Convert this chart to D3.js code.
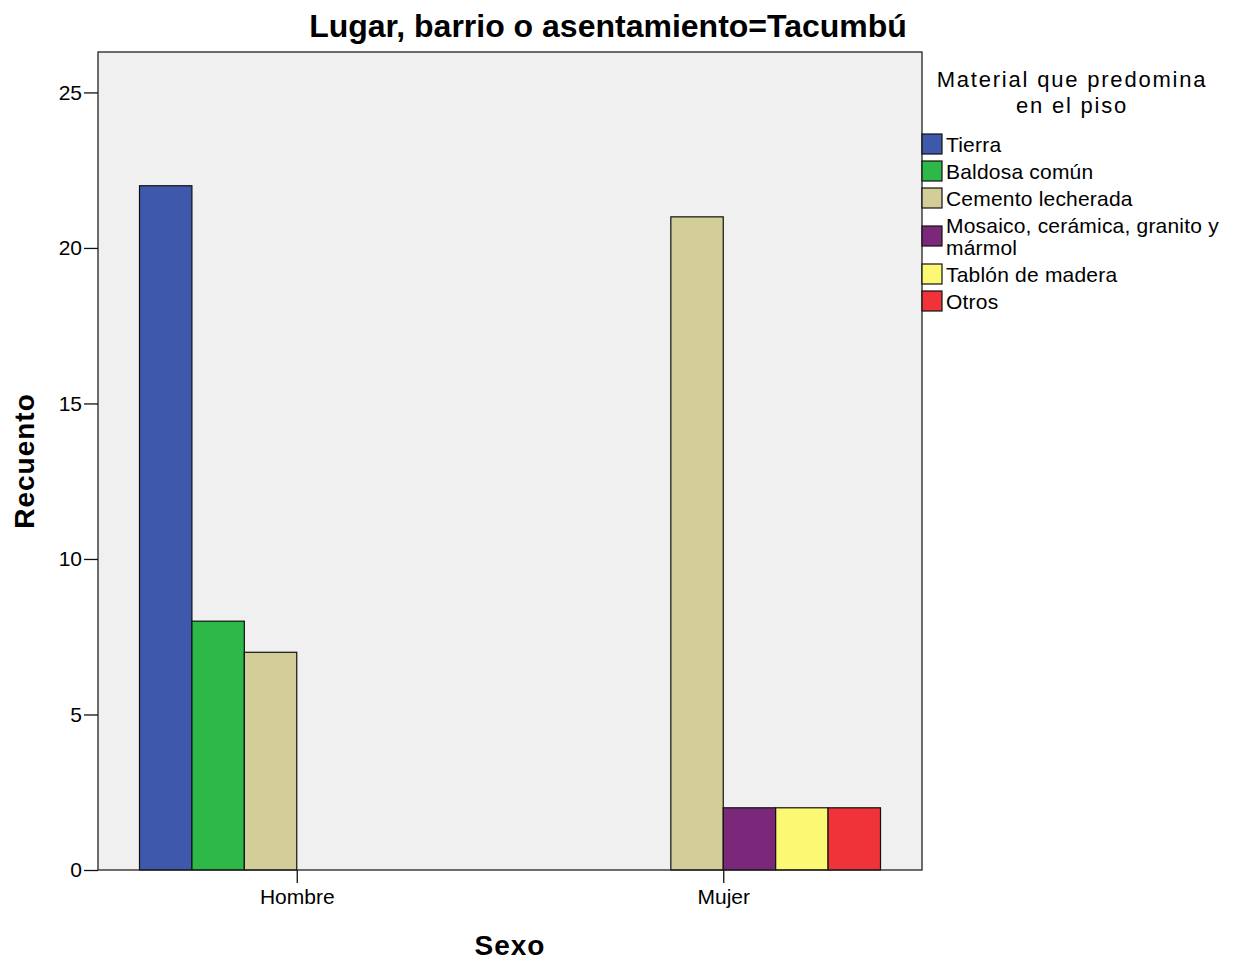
<!DOCTYPE html>
<html>
<head>
<meta charset="utf-8">
<script src="https://cdn.jsdelivr.net/npm/d3@7"></script>
<style>
  html, body { margin: 0; padding: 0; background: #ffffff; }
  svg { display: block; }
  text { font-family: "Liberation Sans", Arial, sans-serif; fill: #000; }
</style>
</head>
<body>
<svg id="chart" width="1240" height="960"></svg>
<script>
// ---- data ----
const titleText = "Lugar, barrio o asentamiento=Tacumbú";
const xTitle = "Sexo";
const yTitle = "Recuento";
const legendTitle = ["Material que predomina", "en el piso"];
const categories = ["Hombre", "Mujer"];
const seriesNames = ["Tierra", "Baldosa común", "Cemento lecherada", "Mosaico, cerámica, granito y mármol", "Tablón de madera", "Otros"];
const seriesColors = ["#3e58ac", "#2eb848", "#d3ce97", "#7b287a", "#fbf873", "#ef3338"];
const hombreValues = [22, 8, 7, 0, 0, 0];
const mujerValues = [0, 0, 21, 2, 2, 2];
const yTicks = [0, 5, 10, 15, 20, 25];
const yMax = 26.3;

const valuesByCategory = { "Hombre": hombreValues, "Mujer": mujerValues };

// ---- layout ----
const svg = d3.select("#chart");
const plot = { left: 98, right: 922, top: 52, bottom: 870 };

const x = d3.scalePoint().domain(categories).range([plot.left, plot.right]).padding(0.466);
const groupWidth = 314.5;
const xInner = d3.scaleBand().domain(seriesNames).range([-groupWidth / 2, groupWidth / 2]).padding(0);
const y = d3.scaleLinear().domain([0, yMax]).range([plot.bottom, plot.top]);

// plot background
svg.append("rect")
  .attr("x", plot.left).attr("y", plot.top)
  .attr("width", plot.right - plot.left).attr("height", plot.bottom - plot.top)
  .attr("fill", "#f0f0f0");

// bars
const barData = [];
categories.forEach(c => {
  valuesByCategory[c].forEach((v, i) => {
    if (v > 0) barData.push({ cat: c, series: seriesNames[i], value: v, color: seriesColors[i] });
  });
});
svg.append("g").selectAll("rect").data(barData).join("rect")
  .attr("x", d => x(d.cat) + xInner(d.series))
  .attr("y", d => y(d.value))
  .attr("width", xInner.bandwidth())
  .attr("height", d => y(0) - y(d.value))
  .attr("fill", d => d.color)
  .attr("stroke", "#111")
  .attr("stroke-width", 1.2);

// frame
svg.append("rect")
  .attr("x", plot.left).attr("y", plot.top)
  .attr("width", plot.right - plot.left).attr("height", plot.bottom - plot.top)
  .attr("fill", "none").attr("stroke", "#222").attr("stroke-width", 1.3);

// y axis
const yAxis = d3.axisLeft(y).tickValues(yTicks).tickSize(14).tickSizeOuter(0).tickPadding(2);
const gy = svg.append("g").attr("transform", `translate(${plot.left},0)`).call(yAxis);
gy.select(".domain").remove();
gy.selectAll(".tick line").attr("stroke", "#111").attr("stroke-width", 1.3);
gy.selectAll(".tick text").attr("font-size", 21).attr("font-family", "Liberation Sans, Arial, sans-serif").attr("fill", "#000");

// x axis
const xAxis = d3.axisBottom(x).tickSize(13).tickSizeOuter(0).tickPadding(6);
const gx = svg.append("g").attr("transform", `translate(0,${plot.bottom})`).call(xAxis);
gx.select(".domain").remove();
gx.selectAll(".tick line").attr("stroke", "#111").attr("stroke-width", 1.3);
gx.selectAll(".tick text").attr("font-size", 21).attr("font-family", "Liberation Sans, Arial, sans-serif").attr("fill", "#000");

// title
svg.append("text")
  .attr("x", 608).attr("y", 37)
  .attr("text-anchor", "middle")
  .attr("font-size", 32).attr("font-weight", "bold")
  .text(titleText);

// axis titles
svg.append("text")
  .attr("x", 510).attr("y", 955)
  .attr("text-anchor", "middle")
  .attr("font-size", 28).attr("font-weight", "bold")
  .attr("letter-spacing", 1)
  .text(xTitle);

svg.append("text")
  .attr("transform", "translate(34,461) rotate(-90)")
  .attr("text-anchor", "middle")
  .attr("font-size", 28).attr("font-weight", "bold")
  .attr("letter-spacing", 1)
  .text(yTitle);

// legend
const lg = svg.append("g");
legendTitle.forEach((t, i) => {
  lg.append("text")
    .attr("x", 1072).attr("y", 87 + i * 26)
    .attr("text-anchor", "middle")
    .attr("font-size", 22)
    .attr("letter-spacing", 1.8)
    .text(t);
});

const textX = 946, boxX = 922, boxSize = 20, maxW = 288, lineH = 22, rowH = 27;
let cursor = 130.5;
seriesNames.forEach((name, i) => {
  // word wrap
  const words = name.split(" ");
  const tmp = lg.append("text").attr("font-size", 21).attr("letter-spacing", 0.2);
  const lines = [];
  let cur = "";
  words.forEach(w => {
    const test = cur ? cur + " " + w : w;
    tmp.text(test);
    if (tmp.node().getComputedTextLength() > maxW && cur) {
      lines.push(cur);
      cur = w;
    } else cur = test;
  });
  lines.push(cur);
  tmp.remove();

  const h = rowH + (lines.length - 1) * lineH;
  const center = cursor + h / 2;
  cursor += h;

  lg.append("rect")
    .attr("x", boxX).attr("y", center - boxSize / 2)
    .attr("width", boxSize).attr("height", boxSize)
    .attr("fill", seriesColors[i]).attr("stroke", "#111").attr("stroke-width", 1.2);

  const firstBase = center + 8 - (lines.length - 1) * lineH / 2;
  lines.forEach((ln, j) => {
    lg.append("text")
      .attr("x", textX).attr("y", firstBase + j * lineH)
      .attr("font-size", 21).attr("letter-spacing", 0.2)
      .text(ln);
  });
});
</script>
</body>
</html>
